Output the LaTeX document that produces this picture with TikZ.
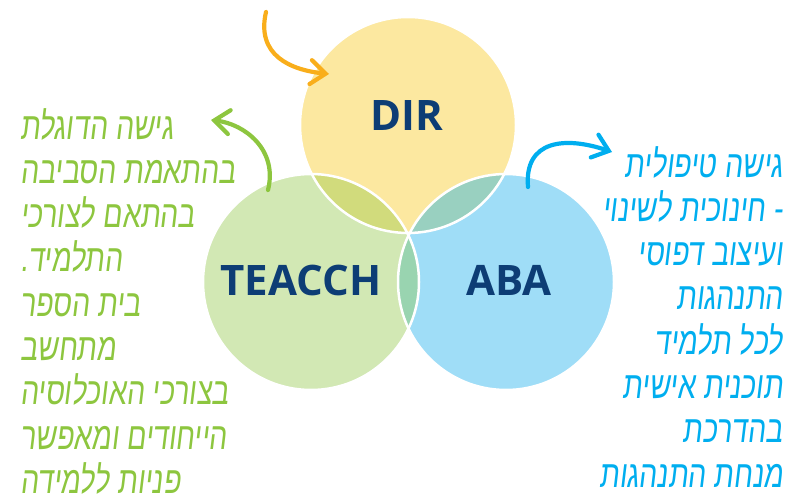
\documentclass[tikz,border=0pt]{standalone}
\usepackage{fontspec}
\usetikzlibrary{arrows.meta}
\setmainfont{Open Sans}
\newfontfamily\hebfont[Script=Hebrew,FakeStretch=0.75,FakeSlant=0.12]{Liberation Sans}
\TeXXeTstate=1
\definecolor{dirfill}{HTML}{FCE8A0}
\definecolor{teacchfill}{HTML}{D2E8B4}
\definecolor{abafill}{HTML}{9FDDF7}
\definecolor{dtlens}{HTML}{D1DB7C}
\definecolor{dalens}{HTML}{99D0C0}
\definecolor{talens}{HTML}{99D4B0}
\definecolor{navy}{HTML}{0D3D75}
\definecolor{leafgreen}{HTML}{8DC63F}
\definecolor{skyblue}{HTML}{00AEEF}
\definecolor{amber}{HTML}{F9AE1B}
\begin{document}
\begin{tikzpicture}
		[x=1pt,y=-1pt,
		ring/.style={circle,minimum size=216pt,inner sep=0pt},
		tag/.style={font=\bfseries\fontsize{42}{42}\selectfont,text=navy},
		note/.style={font=\hebfont\fontsize{38}{44.3}\selectfont,inner sep=0pt},
		bent/.style={line width=4.2pt,line cap=round,-{Straight Barb[length=15pt,width=24pt,line cap=round]}}]
		\useasboundingbox (0,0) rectangle (797,502);
		\node[ring,fill=dirfill,name=dir] at (408,125) {};
		\node[ring,fill=teacchfill,name=teacch] at (311,282) {};
		\node[ring,fill=abafill,name=aba] at (506,282) {};
		% overlaps
		\begin{scope}
			\clip (dir.center) circle[radius=108pt];
			\fill[dtlens] (teacch.center) circle[radius=108pt];
			\fill[dalens] (aba.center) circle[radius=108pt];
		\end{scope}
		\begin{scope}
			\clip (teacch.center) circle[radius=108pt];
			\fill[talens] (aba.center) circle[radius=108pt];
		\end{scope}
		\draw[white,line width=2.5pt] (dir.center) circle[radius=108pt];
		\draw[white,line width=2.5pt] (teacch.center) circle[radius=108pt];
		\draw[white,line width=2.5pt] (aba.center) circle[radius=108pt];
		\node[tag,name=dir label] at (407,116) {DIR};
		\node[tag,name=teacch label] at (301,280) {TEACCH};
		\node[tag,name=aba label] at (509,280) {ABA};
		% texts
		\node[note,text=leafgreen,align=left,anchor=north west,name=teacch note] at (20,108) {%
			\beginR גישה הדוגלת\endR\\
			\beginR בהתאמת הסביבה\endR\\
			\beginR בהתאם לצורכי\endR\\
			\beginR התלמיד.\endR\\
			\beginR בית הספר\endR\\
			\beginR מתחשב\endR\\
			\beginR בצורכי האוכלוסיה\endR\\
			\beginR הייחודים ומאפשר\endR\\
			\beginR פניות ללמידה\endR};
		\node[note,text=skyblue,align=right,anchor=north east,name=aba note] at (783,146) {%
			\beginR גישה טיפולית\endR\\
			\beginR - חינוכית לשינוי\endR\\
			\beginR ועיצוב דפוסי\endR\\
			\beginR התנהגות\endR\\
			\beginR לכל תלמיד\endR\\
			\beginR תוכנית אישית\endR\\
			\beginR בהדרכת\endR\\
			\beginR מנחת התנהגות\endR};
		% arrows
		\coordinate (dir tail) at (266,12);
		\coordinate (dir tip) at (329,74);
		\coordinate (teacch tail) at (268,190);
		\coordinate (teacch tip) at (211,120);
		\coordinate (aba tail) at (528,187);
		\coordinate (aba tip) at (612,152);
		\draw[bent,amber] (dir tail) .. controls (256,55) and (290,70) .. (dir tip);
		\draw[bent,leafgreen] (teacch tail) .. controls (278,150) and (245,124) .. (teacch tip);
		\draw[bent,skyblue] (aba tail) .. controls (524,140) and (565,136) .. (aba tip);
	\end{tikzpicture}
\end{document}
